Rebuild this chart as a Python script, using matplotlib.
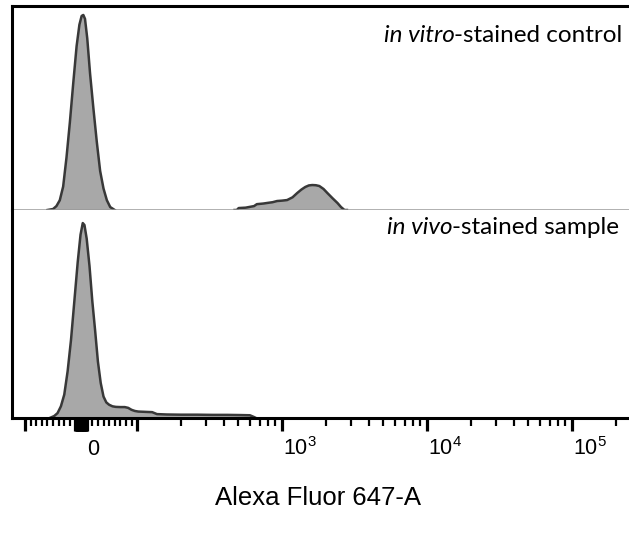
import matplotlib
matplotlib.use("Agg")
import matplotlib.pyplot as plt
from matplotlib.transforms import blended_transform_factory, ScaledTranslation

# ---------------- data ----------------
# in vitro-stained control: negative population
ctrl_neg_x = [-60, -50, -44, -38, -32, -26, -20, -14, -8, -3, 1, 4, 7, 11, 16, 22, 28, 34, 40, 46, 52, 60]
ctrl_neg_y = [0, 0.5, 2, 5, 12, 27, 45, 65, 84, 95, 99.5, 100, 98, 88, 70, 52, 35, 20, 11, 5, 1.5, 0]
# in vitro-stained control: positive population
ctrl_pos_x = [470, 487, 502, 560, 640, 670, 740, 788, 860, 923, 1000, 1083, 1180, 1271, 1360,
              1445, 1530, 1615, 1710, 1806, 1930, 2053, 2230, 2409, 2550, 2693, 2800]
ctrl_pos_y = [0, 0, 1, 1.2, 2, 3, 3.3, 3.6, 4, 4.6, 4.8, 5.1, 6.5, 8.7, 10.5,
              11.8, 12.6, 12.8, 12.7, 12.3, 10.8, 8.7, 6, 3.6, 1.5, 0, 0]
# in vivo-stained sample
sample_x = [-56, -48, -42, -36, -30, -24, -18, -12, -6, -1, 3, 6, 10, 15, 20, 25, 30, 35, 40, 45,
            50, 56, 62, 70, 78, 84, 90, 96, 102, 110, 118, 127, 137, 160, 200, 260, 330, 420,
            520, 600, 640, 660]
sample_y = [0, 1, 2.5, 6, 12, 24, 40, 60, 80, 94, 100, 99, 92, 78, 60, 45, 29, 18, 11, 8,
            6.8, 6, 5.7, 5.6, 5.6, 5.2, 4.2, 3.6, 3.3, 3.2, 3.1, 3.0, 2.0, 1.8, 1.7, 1.7, 1.6, 1.6,
            1.5, 1.4, 0.5, 0]

panel_titles = [("in vitro", "-stained control"), ("in vivo", "-stained sample")]
xlabel = "Alexa Fluor 647-A"
label_values = [0, 1e3, 1e4, 1e5]
label_texts = ["0", r"$\mathregular{10^3}$", r"$\mathregular{10^4}$", r"$\mathregular{10^5}$"]
major_ticks = [-100, -10, -9, -8, -7, -6, -5, -4, -3, -2, -1, 0, 1, 2, 3, 4, 5, 6, 7, 8, 9, 10,
               100, 1e3, 1e4, 1e5]
minor_ticks = ([-90, -80, -70, -60, -50, -40, -30, -20, 20, 30, 40, 50, 60, 70, 80, 90]
               + [m * 10 ** e for e in (2, 3, 4) for m in range(2, 10)] + [2e5])
x_limits = (-123, 262144)
top_ymax = 104.6
bot_ymax = 106.7

# ---------------- styling ----------------
W, H, DPI = 629, 535, 100
FILL = "#a8a8a8"
EDGE = "#383838"
plt.rcParams["mathtext.fontset"] = "custom"
plt.rcParams["mathtext.rm"] = "Liberation Sans"
plt.rcParams["font.family"] = ["Liberation Sans", "DejaVu Sans"]

fig = plt.figure(figsize=(W / DPI, H / DPI), dpi=DPI)
left = 12 / W
right = 632.7 / W
ax_top = fig.add_axes([left, 1 - 210 / H, right - left, (210 - 6) / H])
ax_bot = fig.add_axes([left, 1 - 418 / H, right - left, (418 - 210) / H], sharex=ax_top)

for ax in (ax_top, ax_bot):
    ax.set_xscale("symlog", linthresh=100, linscale=0.348)
    ax.set_xlim(*x_limits)
    ax.set_yticks([])
    ax.spines["right"].set_visible(False)
    ax.spines["left"].set_linewidth(2.2)
    ax.spines["left"].set_color("black")

ax_top.set_ylim(0, top_ymax)
ax_bot.set_ylim(0, bot_ymax)

ax_top.spines["top"].set_linewidth(2.2)
ax_top.spines["bottom"].set_color("#999999")
ax_top.spines["bottom"].set_linewidth(1.8)
ax_top.tick_params(axis="x", which="both", bottom=False, labelbottom=False)

ax_bot.spines["top"].set_visible(False)
ax_bot.spines["bottom"].set_linewidth(2.2)

for xs, ys in ((ctrl_neg_x, ctrl_neg_y), (ctrl_pos_x, ctrl_pos_y)):
    ax_top.fill_between(xs, ys, 0, color=FILL, linewidth=0, zorder=1)
    ax_top.plot(xs, ys, color=EDGE, linewidth=1.8, zorder=2, solid_joinstyle="round")
ax_bot.fill_between(sample_x, sample_y, 0, color=FILL, linewidth=0, zorder=1)
ax_bot.plot(sample_x, sample_y, color=EDGE, linewidth=1.8, zorder=2, solid_joinstyle="round")

ax_bot.set_xticks(major_ticks)
ax_bot.set_xticks(minor_ticks, minor=True)
ax_bot.tick_params(axis="x", which="major", direction="out", length=9.5, width=2.3,
                   color="black", labelbottom=False)
ax_bot.tick_params(axis="x", which="minor", direction="out", length=5.5, width=1.6, color="black")

# tick labels (placed slightly right of their ticks, as in the reference)
trans = blended_transform_factory(ax_bot.transData, fig.transFigure)
for v, t in zip(label_values, label_texts):
    if v == 0:
        off = ScaledTranslation(12 / DPI, 0, fig.dpi_scale_trans)
        ax_bot.text(v, 1 - 455 / H, t, transform=trans + off, ha="center", va="baseline",
                    fontsize=15.5, family="Liberation Sans")
    else:
        off = ScaledTranslation(1 / DPI, 0, fig.dpi_scale_trans)
        ax_bot.text(v, 1 - 455 / H, t, transform=trans + off, ha="left", va="baseline",
                    fontsize=15.5, family="Liberation Sans")

fig.text(318 / W, 1 - 505 / H, xlabel, ha="center", va="baseline", fontsize=18.5,
         family="Liberation Sans")

# panel titles: italic part + regular part, right aligned
fig.canvas.draw()
renderer = fig.canvas.get_renderer()
for (ital, reg), (xr, yb) in zip(panel_titles, [(622, 42), (619, 234)]):
    t_reg = fig.text(xr / W, 1 - yb / H, reg, ha="right", va="baseline", fontsize=17.5,
                     family="Lato")
    bb = t_reg.get_window_extent(renderer=renderer)
    fig.text(bb.x0 / W + 1.0 / W, 1 - yb / H, ital, ha="right", va="baseline", fontsize=17.5,
             family="Lato", style="italic")

fig.savefig("out.png", dpi=DPI)
